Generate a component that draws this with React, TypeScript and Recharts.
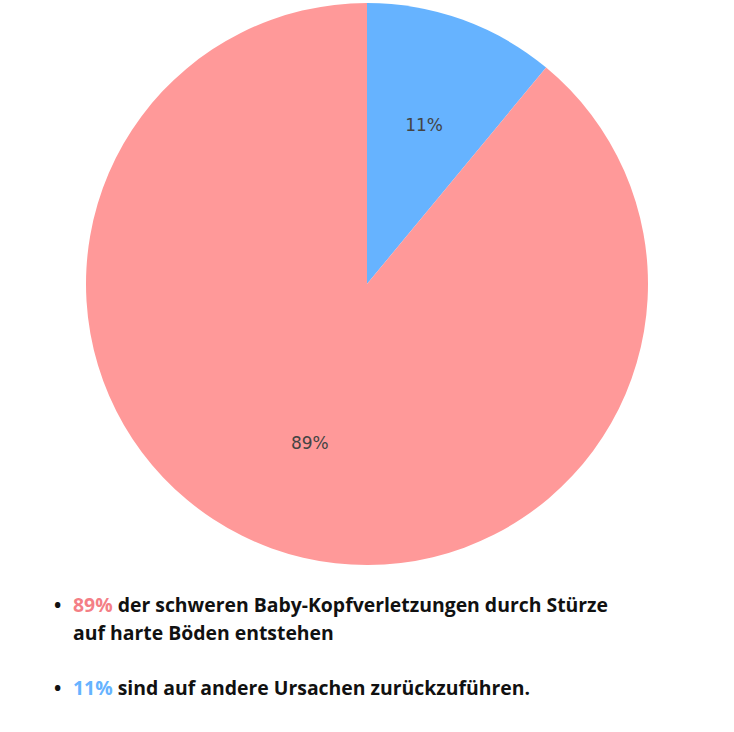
import { PieChart, Pie, Cell } from 'recharts'

const slices = ['Andere Ursachen', 'Stürze auf harte Böden']
const shares = [11, 89]
const COLORS = ['#66b3ff', '#ff9999']
const TEXT_COLORS = ['#66b3ff', '#f47f86']

const data = slices.map((name, i) => ({ name, value: shares[i] }))

const RADIAN = Math.PI / 180

// label at 60% of the radius, like the original
const renderLabel = ({ cx, cy, midAngle, outerRadius, value }: any) => {
    const r = outerRadius * 0.6
    const x = cx + r * Math.cos(-midAngle * RADIAN)
    const y = cy + r * Math.sin(-midAngle * RADIAN)
    return (
        <text x={x} y={y} fill="#444" textAnchor="middle" dominantBaseline="central"
            fontFamily="DejaVu Sans" fontSize={17}>
            {`${value}%`}
        </text>
    )
}

export default function App() {
    return (
        <div style={{ position: 'absolute', left: 0, top: 0, width: 734, height: 732, background: '#fff' }}>
            <PieChart width={734} height={580} margin={{ top: 0, right: 0, bottom: 0, left: 0 }}>
                <Pie
                    data={data}
                    dataKey="value"
                    cx={367}
                    cy={284}
                    outerRadius={281}
                    startAngle={90}
                    endAngle={-270}
                    stroke="none"
                    label={renderLabel}
                    labelLine={false}
                    isAnimationActive={false}
                >
                    {data.map((entry, index) => (
                        <Cell key={`cell-${index}`} fill={COLORS[index % COLORS.length]} />
                    ))}
                </Pie>
            </PieChart>

            {/* notes under the pie */}
            <div style={{ position: 'absolute', left: 54, top: 591, fontFamily: 'Open Sans', fontWeight: 700, fontSize: 19.4, lineHeight: '28px', color: '#111' }}>
                <div style={{ display: 'flex' }}>
                    <span style={{ width: 19 }}>•</span>
                    <span>
                        <span style={{ color: TEXT_COLORS[1] }}>{shares[1]}%</span> der schweren Baby-Kopfverletzungen durch Stürze<br />
                        auf harte Böden entstehen
                    </span>
                </div>
                <div style={{ display: 'flex', marginTop: 27 }}>
                    <span style={{ width: 19 }}>•</span>
                    <span>
                        <span style={{ color: TEXT_COLORS[0] }}>{shares[0]}%</span> sind auf andere Ursachen zurückzuführen.
                    </span>
                </div>
            </div>
        </div>
    )
}
